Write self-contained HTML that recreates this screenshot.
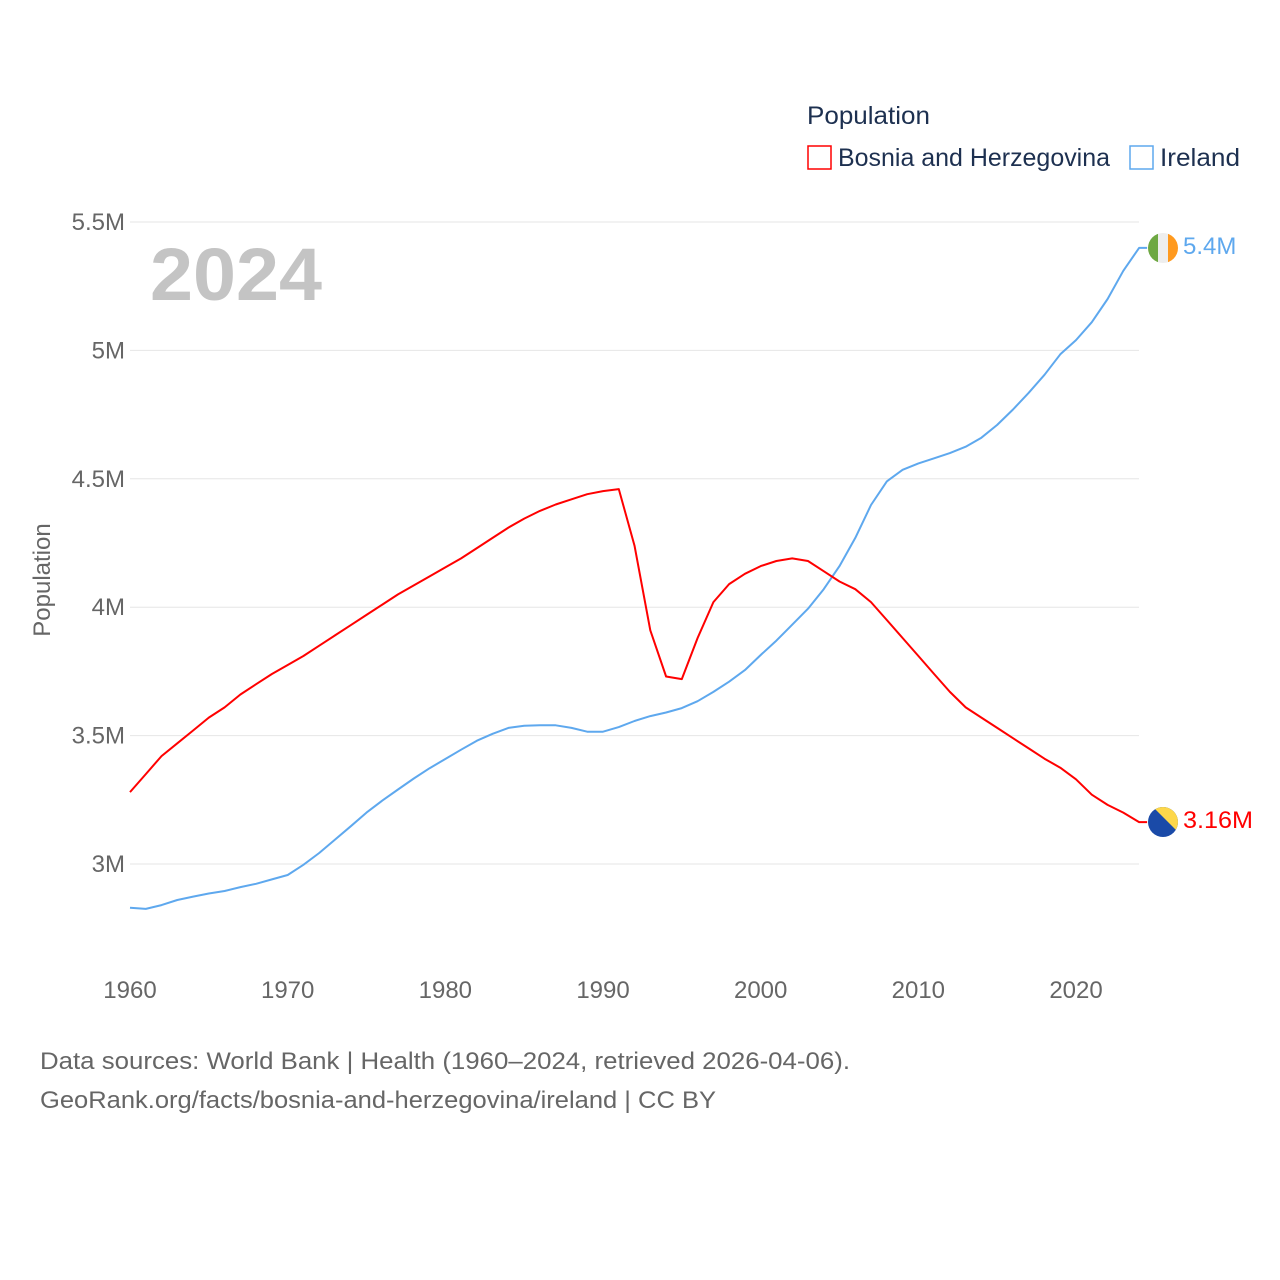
<!DOCTYPE html>
<html><head><meta charset="utf-8"><style>
html,body{margin:0;padding:0;background:#fff;}
svg{display:block;font-family:"Liberation Sans",sans-serif;}
</style></head><body>
<svg id="chart" width="1280" height="1280" viewBox="0 0 1280 1280">
<defs>
<clipPath id="cIE"><circle cx="1163" cy="248" r="15"/></clipPath>
<clipPath id="cBA"><circle cx="1163" cy="822" r="15"/></clipPath>
</defs>
<g id="grid"></g>
<g id="yticks"></g>
<g id="xticks"></g>
<text x="50" y="580" transform="rotate(-90 50 580)" text-anchor="middle" font-size="24" fill="#666">Population</text>
<text x="150" y="300" font-size="74" font-weight="bold" fill="#c4c4c4" textLength="172" lengthAdjust="spacingAndGlyphs">2024</text>
<g>
<text x="807" y="124" font-size="25" fill="#1d3050" textLength="123" lengthAdjust="spacingAndGlyphs">Population</text>
<g>
<rect x="808" y="146" width="23" height="23" fill="none" stroke="#ff0000" stroke-width="1.5"/>
<text x="838" y="166" font-size="25" fill="#1d3050" textLength="272" lengthAdjust="spacingAndGlyphs">Bosnia and Herzegovina</text></g>
<g>
<rect x="1130" y="146" width="23" height="23" fill="none" stroke="#5ea8ee" stroke-width="1.5"/>
<text x="1160" y="166" font-size="25" fill="#1d3050" textLength="80" lengthAdjust="spacingAndGlyphs">Ireland</text></g>
</g>
<g id="series"></g>
<g clip-path="url(#cIE)">
<rect x="1148" y="233" width="10" height="30" fill="#6ea843"/>
<rect x="1158" y="233" width="10" height="30" fill="#eeeeee"/>
<rect x="1168" y="233" width="10" height="30" fill="#ff9a1f"/>
</g>
<g clip-path="url(#cBA)">
<rect x="1148" y="807" width="30" height="30" fill="#1a4aa8"/>
<polygon points="1153,807 1178,807 1178,832" fill="#fdd74a"/>
</g>
<text x="1183" y="254" font-size="24" fill="#5ea8ee">5.4M</text>
<text x="1183" y="828" font-size="24" fill="#ff0000" textLength="70" lengthAdjust="spacingAndGlyphs">3.16M</text>
<text x="40" y="1069" font-size="24" fill="#666" textLength="810" lengthAdjust="spacingAndGlyphs">Data sources: World Bank | Health (1960–2024, retrieved 2026-04-06).</text>
<text x="40" y="1108" font-size="24" fill="#666" textLength="676" lengthAdjust="spacingAndGlyphs">GeoRank.org/facts/bosnia-and-herzegovina/ireland | CC BY</text>
</svg>
<script>
const years = [];
for (let y = 1960; y <= 2024; y++) years.push(y);
const bosnia = [3.28,3.35,3.42,3.47,3.52,3.57,3.61,3.66,3.70,3.74,3.775,3.81,3.85,3.89,3.93,3.97,4.01,4.05,4.085,4.12,4.155,4.19,4.23,4.27,4.31,4.345,4.375,4.40,4.42,4.44,4.452,4.46,4.24,3.91,3.73,3.72,3.88,4.02,4.09,4.13,4.16,4.18,4.19,4.18,4.14,4.10,4.07,4.02,3.95,3.88,3.81,3.74,3.67,3.61,3.57,3.53,3.49,3.45,3.41,3.375,3.33,3.27,3.23,3.20,3.163];
const ireland = [2.83,2.825,2.84,2.86,2.873,2.885,2.895,2.91,2.923,2.94,2.957,2.997,3.043,3.095,3.147,3.2,3.247,3.29,3.333,3.373,3.409,3.445,3.48,3.507,3.53,3.538,3.54,3.54,3.53,3.515,3.515,3.533,3.557,3.576,3.59,3.607,3.634,3.67,3.71,3.755,3.814,3.87,3.932,3.994,4.07,4.16,4.27,4.398,4.49,4.535,4.56,4.58,4.6,4.625,4.66,4.71,4.77,4.835,4.905,4.985,5.04,5.11,5.2,5.31,5.399];
const yTicks = [3,3.5,4,4.5,5,5.5];
const yTickLabels = ["3M","3.5M","4M","4.5M","5M","5.5M"];
const xTicks = [1960,1970,1980,1990,2000,2010,2020];

const NS = "http://www.w3.org/2000/svg";
const xs = yr => 130 + (yr - 1960) * 15.767;
const ys = v => 864 - (v - 3) * 256.8;
const grid = document.getElementById('grid');
const yt = document.getElementById('yticks');
const xt = document.getElementById('xticks');
yTicks.forEach((t, i) => {
  const l = document.createElementNS(NS, 'line');
  l.setAttribute('x1', 130); l.setAttribute('x2', 1139);
  l.setAttribute('y1', ys(t)); l.setAttribute('y2', ys(t));
  l.setAttribute('stroke', '#e6e6e6'); l.setAttribute('stroke-width', '1');
  
  
  grid.appendChild(l);
  const tx = document.createElementNS(NS, 'text');
  tx.setAttribute('x', 125); tx.setAttribute('y', ys(t) + 8);
  tx.setAttribute('text-anchor', 'end'); tx.setAttribute('font-size', '24'); tx.setAttribute('fill', '#666');
  tx.textContent = yTickLabels[i];
  
  
  yt.appendChild(tx);
});
xTicks.forEach(t => {
  const tx = document.createElementNS(NS, 'text');
  tx.setAttribute('x', xs(t)); tx.setAttribute('y', 998);
  tx.setAttribute('text-anchor', 'middle'); tx.setAttribute('font-size', '24'); tx.setAttribute('fill', '#666');
  tx.textContent = t;
  
  
  xt.appendChild(tx);
});
const ser = document.getElementById('series');
function drawLine(vals, color, name) {
  let d = vals.map((v, i) => (i ? 'L' : 'M') + xs(years[i]).toFixed(1) + ',' + ys(v).toFixed(1)).join(' ');
  d += ' L' + (xs(years[years.length - 1]) + 8).toFixed(1) + ',' + ys(vals[vals.length - 1]).toFixed(1);
  const p = document.createElementNS(NS, 'path');
  p.setAttribute('d', d); p.setAttribute('fill', 'none');
  p.setAttribute('stroke', color); p.setAttribute('stroke-width', '2');
  p.setAttribute('stroke-linejoin', 'round');
  
  
  ser.appendChild(p);
}
drawLine(ireland, '#5ea8ee', 'ireland-line');
drawLine(bosnia, '#ff0000', 'bosnia-line');
</script>
</body></html>
